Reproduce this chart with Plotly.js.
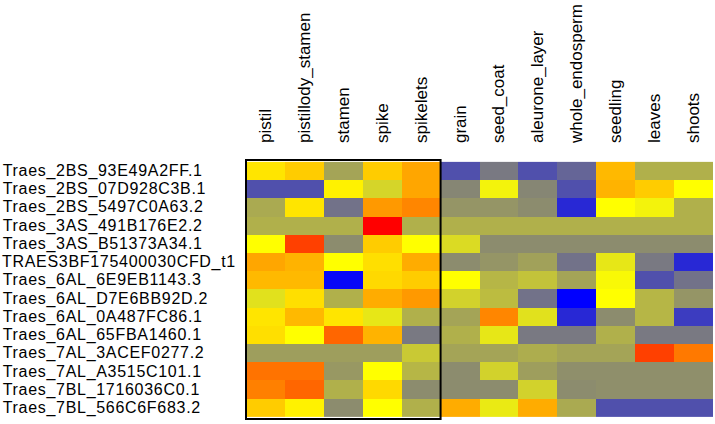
<!DOCTYPE html>
<html>
<head>
<meta charset="utf-8">
<script src="https://cdn.plot.ly/plotly-3.0.1.min.js"></script>
<style>
html,body{margin:0;padding:0;background:#fff;}
#chart{width:715px;height:424px;}
#chart .annotation-text{letter-spacing:0.7px;}
</style>
</head>
<body>
<div id="chart"></div>
<script>
// Column (tissue) labels
var tissues = ["pistil","pistillody_stamen","stamen","spike","spikelets","grain","seed_coat","aleurone_layer","whole_endosperm","seedling","leaves","shoots"];
// Tissues enclosed by the black box
var boxedTissues = ["pistil","pistillody_stamen","stamen","spike","spikelets"];
// Row (gene) labels
var genes = ["Traes_2BS_93E49A2FF.1","Traes_2BS_07D928C3B.1","Traes_2BS_5497C0A63.2","Traes_3AS_491B176E2.2","Traes_3AS_B51373A34.1","TRAES3BF175400030CFD_t1","Traes_6AL_6E9EB1143.3","Traes_6AL_D7E6BB92D.2","Traes_6AL_0A487FC86.1","Traes_6AL_65FBA1460.1","Traes_7AL_3ACEF0277.2","Traes_7AL_A3515C101.1","Traes_7BL_1716036C0.1","Traes_7BL_566C6F683.2"];
// Relative expression (estimated), one array per gene, in tissue order
var r01 = [4.2, 4.4, 2.5, 4.4, 4.7, 1.2, 1.8, 1.2, 1.5, 4.55, 2.7, 2.7];
var r02 = [1.2, 1.2, 4.1, 3.3, 4.7, 2.0, 3.8, 2.0, 1.2, 4.6, 4.4, 4.0];
var r03 = [2.6, 4.2, 1.7, 4.8, 4.95, 2.25, 2.25, 2.1, 0.6, 4.0, 3.8, 2.7];
var r04 = [2.7, 2.7, 2.7, 6.0, 2.7, 2.7, 2.7, 2.7, 2.7, 2.7, 2.7, 2.7];
var r05 = [4.0, 5.5, 2.1, 4.4, 4.0, 3.4, 2.1, 2.1, 2.1, 2.1, 2.1, 2.1];
var r06 = [4.7, 4.6, 4.0, 4.25, 4.65, 2.1, 2.25, 2.45, 1.7, 3.6, 1.8, 0.6];
var r07 = [4.55, 4.55, 0.1, 4.3, 4.4, 4.0, 2.8, 3.0, 2.5, 3.9, 1.2, 1.7];
var r08 = [3.5, 4.25, 2.7, 4.65, 4.8, 3.25, 2.9, 1.7, 0.0, 4.0, 2.8, 2.25];
var r09 = [4.2, 4.55, 4.2, 3.6, 2.7, 2.5, 4.95, 3.5, 0.6, 2.1, 2.8, 0.9];
var r10 = [4.25, 4.0, 5.2, 4.6, 1.8, 2.7, 3.6, 1.8, 1.8, 2.7, 1.8, 1.8];
var r11 = [2.4, 2.4, 2.4, 2.4, 3.1, 2.5, 2.5, 2.65, 2.5, 2.5, 5.5, 5.05];
var r12 = [5.1, 5.1, 2.3, 4.0, 2.8, 2.1, 3.25, 2.4, 2.15, 2.15, 2.15, 2.15];
var r13 = [5.0, 5.2, 2.7, 4.3, 2.1, 2.1, 2.1, 3.25, 2.1, 2.15, 2.15, 2.15];
var r14 = [4.4, 4.1, 2.1, 4.0, 2.7, 4.65, 3.65, 4.65, 2.6, 1.2, 1.2, 1.2];

var z = [r01,r02,r03,r04,r05,r06,r07,r08,r09,r10,r11,r12,r13,r14];

var FONT = "Liberation Sans, Arial, Helvetica, sans-serif";

var trace = {
  type: "heatmap", x: tissues, y: genes, z: z, zmin: 0, zmax: 6,
  colorscale: [[0, "#0000ff"], [1/3, "#868674"], [2/3, "#ffff00"], [1, "#ff0000"]],
  showscale: false
};

var annotations = genes.map(function(g){
  return {
    text: g, xref: "paper", yref: "y", x: -0.5055, y: g,
    xanchor: "left", yanchor: "middle", showarrow: false,
    font: {family: FONT, size: 16, color: "#000"}
  };
});

var layout = {
  width: 715, height: 424,
  margin: {l: 245, r: 2, t: 160, b: 5, pad: 0},
  paper_bgcolor: "#fff", plot_bgcolor: "#fff",
  font: {family: FONT, color: "#000"},
  xaxis: {
    side: "top", type: "category", tickangle: -90,
    ticks: "", showgrid: false, zeroline: false, showline: false,
    ticklabelstandoff: 16,
    tickfont: {family: FONT, size: 17, color: "#000"}
  },
  yaxis: {
    type: "category", autorange: "reversed", showticklabels: false,
    ticks: "", showgrid: false, zeroline: false, showline: false
  },
  annotations: annotations,
  shapes: [{
    type: "rect", xref: "x", yref: "paper",
    x0: -0.5, x1: boxedTissues.length - 0.5, y0: 0, y1: 1,
    line: {color: "#000", width: 2}, fillcolor: "rgba(0,0,0,0)"
  }]
};

Plotly.newPlot("chart", [trace], layout, {staticPlot: true, displayModeBar: false});
</script>
</body>
</html>
